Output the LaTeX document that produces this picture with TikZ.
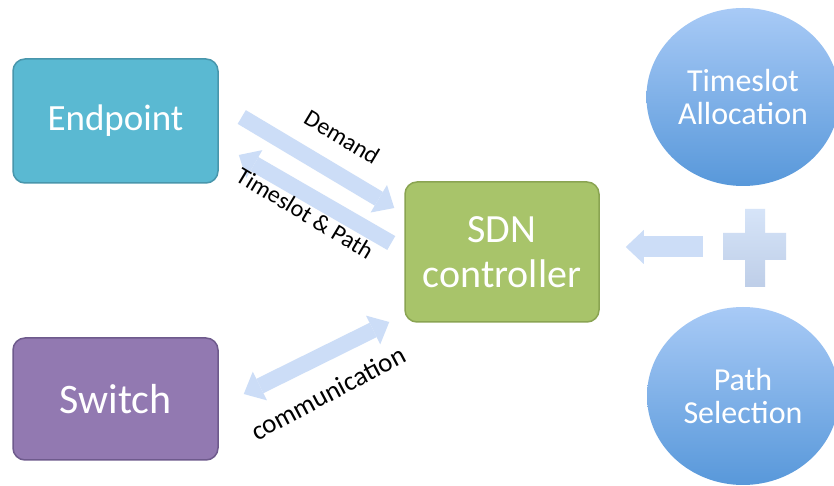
\documentclass[tikz,border=0pt]{standalone}
\usepackage{fontspec}
\setmainfont{Carlito}
\usetikzlibrary{arrows.meta,calc,shapes.geometric}
\definecolor{epfill}{RGB}{90,185,210}
\definecolor{epline}{RGB}{72,150,172}
\definecolor{swfill}{RGB}{146,121,177}
\definecolor{swline}{RGB}{110,90,140}
\definecolor{sdnfill}{RGB}{168,196,106}
\definecolor{sdnline}{RGB}{138,164,82}
\definecolor{arrowblue}{RGB}{204,221,247}
\definecolor{circtop}{RGB}{168,202,246}
\definecolor{circbot}{RGB}{88,152,218}
\definecolor{plustop}{RGB}{214,228,248}
\definecolor{plusbot}{RGB}{190,206,232}
\begin{document}
\begin{tikzpicture}[x=1pt,y=1pt,
  box/.style={rounded corners=12pt, line width=1.5pt, text=white, align=center, inner sep=0pt},
  circ/.style={ellipse, minimum width=192pt, minimum height=178pt, top color=circtop, bottom color=circbot, draw=none, text=white, align=center, font=\fontsize{32}{33}\selectfont},
  fat/.style={draw=arrowblue, line width=16pt, -{Triangle[width=32pt,length=18pt,line width=0pt]}},
  fatboth/.style={draw=arrowblue, line width=16pt, {Triangle[width=32pt,length=18pt,line width=0pt]}-{Triangle[width=32pt,length=18pt,line width=0pt]}},
  lbl/.style={font=\fontsize{24}{26}\selectfont, inner sep=0pt}]
\useasboundingbox (0,0) rectangle (834,486);
\fill[white] (0,0) rectangle (834,486);

\node[box, draw=epline, fill=epfill, minimum width=205pt, minimum height=124pt, font=\fontsize{37}{44}\selectfont] (ep) at (115.5,365) {Endpoint};
\node[box, draw=swline, fill=swfill, minimum width=205pt, minimum height=122pt, font=\fontsize{42}{46}\selectfont] (sw) at (115.5,87) {Switch};
\node[box, draw=sdnline, fill=sdnfill, minimum width=194pt, minimum height=140pt, font=\fontsize{40}{45}\selectfont] (sdn) at (502,234) {SDN\\controller};

\node[circ] (ta) at (743,389) {Timeslot\\Allocation};
\node[circ] (ps) at (743,90) {Path\\Selection};

\node[minimum width=63pt, minimum height=78pt, inner sep=0pt] (plus) at (754.5,238) {};
\shade[top color=plustop, bottom color=plusbot] (723,226) rectangle (786,253) (745,199) rectangle (765,277);

\coordinate (t) at ([xshift=26pt]sdn.east);
\draw[line width=21pt, draw=arrowblue, -{Triangle[width=34pt,length=18pt,line width=0pt]}] ([xshift=-20pt,yshift=1pt]plus.west) -- ($(t |- plus.west)+(0,1)$);

\draw[fat] ([shift={(23,4)}]ep.east) -- ([shift={(-10,44)}]sdn.west);
\draw[fat] ([shift={(-13,9)}]sdn.west) -- ([shift={(20,-34)}]ep.east);
\draw[fatboth] ([shift={(25,5)}]sw.east) -- ([shift={(-15,-70)}]sdn.west);

\node[lbl, rotate=-31] (dl) at (342,349) {Demand};
\node[lbl, rotate=-31] (tl) at (305,273) {Timeslot \& Path};
\node[lbl, rotate=28, font=\fontsize{27}{28}\selectfont] (cl) at (328,93) {communication};
\end{tikzpicture}
\end{document}
